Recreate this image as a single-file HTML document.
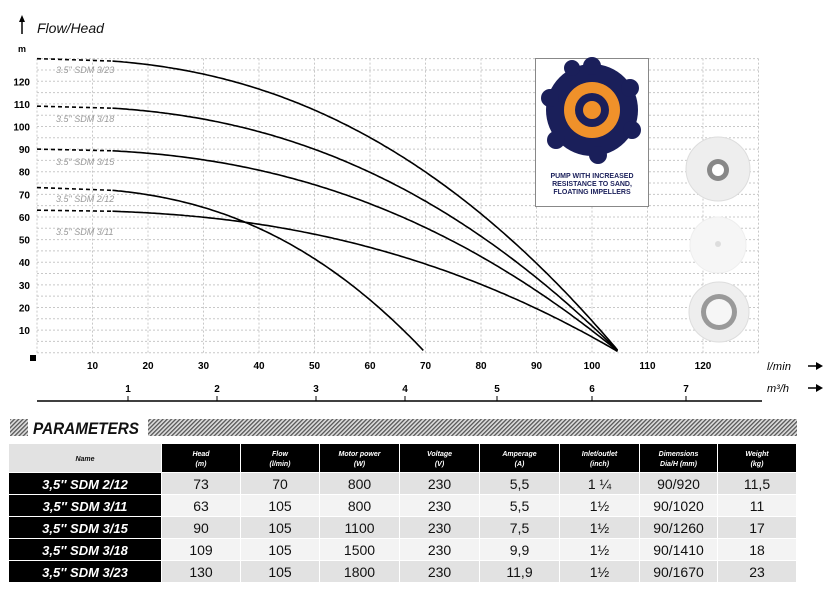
<!DOCTYPE html>
<html><head><meta charset="utf-8"><style>
body{margin:0;background:#fff;width:833px;height:599px;overflow:hidden;font-family:"Liberation Sans",sans-serif}
</style></head><body>
<svg width="833" height="599" xmlns="http://www.w3.org/2000/svg" font-family="Liberation Sans, sans-serif">
<defs>
<pattern id="h" width="3" height="3" patternUnits="userSpaceOnUse" patternTransform="rotate(45)"><rect width="3" height="3" fill="#ddd"/><rect width="1.3" height="3" fill="#555"/></pattern>
</defs>
<g id="grid" stroke="#c8c8c8" stroke-width="1" stroke-dasharray="2,2"></g>
<line x1="22" y1="34" x2="22" y2="20" stroke="#000" stroke-width="1.5"/>
<polygon points="22,15 19,22 25,22" fill="#000"/>
<text x="37" y="33" font-size="14" font-style="italic" fill="#111">Flow/Head</text>
<text x="18" y="52" font-size="9" font-weight="bold">m</text>
<g font-size="10" font-weight="bold" text-anchor="end" id="ylab"></g>
<g font-size="10" font-weight="bold" text-anchor="middle" id="xlab"></g>
<rect x="30" y="355" width="6" height="6" fill="#000"/>
<text x="767" y="370" font-size="11" font-style="italic" textLength="24">l/min</text>
<text x="767" y="392" font-size="11" font-style="italic" textLength="22">m³/h</text>
<g stroke="#000" stroke-width="1.5"><line x1="808" y1="366" x2="818" y2="366"/><line x1="808" y1="388" x2="818" y2="388"/></g>
<polygon points="823,366 816,362 816,370" fill="#000"/><polygon points="823,388 816,384 816,392" fill="#000"/>
<line x1="37" y1="401" x2="762" y2="401" stroke="#000" stroke-width="1.5"/>
<g id="m3" font-size="10" font-weight="bold" text-anchor="middle"></g>
<g id="curves" fill="none" stroke="#000" stroke-width="1.6"></g>
<g font-size="9" font-style="italic" fill="#999">
<text x="56" y="73">3.5" SDM 3/23</text>
<text x="56" y="122">3.5" SDM 3/18</text>
<text x="56" y="165">3.5" SDM 3/15</text>
<text x="56" y="202">3.5" SDM 2/12</text>
<text x="56" y="235">3.5" SDM 3/11</text>
</g>
<rect x="535.5" y="58.5" width="113" height="148" fill="#fff" stroke="#888"/>
<circle cx="592" cy="110" r="46" fill="#1a1f5a"/>
<g fill="#1a1f5a"><circle cx="592" cy="66" r="9"/><circle cx="630" cy="88" r="9"/><circle cx="632" cy="130" r="9"/><circle cx="598" cy="155" r="9"/><circle cx="556" cy="140" r="9"/><circle cx="550" cy="98" r="9"/><circle cx="572" cy="68" r="8"/></g>
<circle cx="592" cy="110" r="28" fill="#f0912a"/>
<circle cx="592" cy="110" r="17" fill="#1a1f5a"/>
<circle cx="592" cy="110" r="9" fill="#f0912a"/>
<g font-size="7" font-weight="bold" fill="#1a1f5a" text-anchor="middle"><text x="592" y="178">PUMP WITH INCREASED</text><text x="592" y="186">RESISTANCE TO SAND,</text><text x="592" y="194">FLOATING IMPELLERS</text></g>
<g><circle cx="718" cy="169" r="32" fill="#eee" stroke="#ddd"/><circle cx="718" cy="170" r="11" fill="#888"/><circle cx="718" cy="170" r="6" fill="#fff"/>
<circle cx="718" cy="245" r="28" fill="#f6f6f6" stroke="#eee"/><circle cx="718" cy="244" r="3" fill="#ddd"/>
<circle cx="719" cy="312" r="30" fill="#eee" stroke="#ddd"/><circle cx="719" cy="312" r="18" fill="#999"/><circle cx="719" cy="312" r="13" fill="#f6f6f6"/></g>
<rect x="10" y="419" width="18" height="17" fill="url(#h)"/>
<rect x="148" y="419" width="649" height="17" fill="url(#h)"/>
<text x="33" y="434" font-size="17" font-weight="bold" font-style="italic" fill="#111" textLength="106" lengthAdjust="spacingAndGlyphs">PARAMETERS</text>
<g id="tbl"></g>
</svg>
<script>
var NS="http://www.w3.org/2000/svg";
function el(p,t,a,txt){var e=document.createElementNS(NS,t);for(var k in a)e.setAttribute(k,a[k]);if(txt!=null)e.textContent=txt;document.getElementById(p).appendChild(e);return e;}
function X(q){return 37+q*5.55;}function Y(h){return 352.7-h*2.262;}
for(var q=0;q<=130;q+=10)el("grid","line",{x1:X(q),y1:Y(130),x2:X(q),y2:Y(0)});
for(var h=0;h<=130;h+=5)el("grid","line",{x1:X(0),y1:Y(h),x2:X(130),y2:Y(h)});
for(var h=10;h<=120;h+=10)el("ylab","text",{x:30,y:Y(h)+4},h);
for(var q=10;q<=120;q+=10)el("xlab","text",{x:X(q),y:369},q);
var m3x=[128,217,316,405,497,592,686];
m3x.forEach(function(x,i){el("m3","text",{x:x,y:392},i+1);el("m3","line",{x1:x,y1:396,x2:x,y2:401,stroke:"#000"});});
var cs=[[130,105],[109,105],[90,105],[73,70,2.5],[63,105,2.4]];
cs.forEach(function(c){var p=c[2]||2.35,d="";for(var q=13.6;q<=c[1];q+=0.5){d+=(d?"L":"M")+X(q).toFixed(1)+","+Y(c[0]*(1-Math.pow(q/c[1],p))).toFixed(1);}
el("curves","path",{d:d});el("curves","line",{x1:X(0),y1:Y(c[0]),x2:X(13.6),y2:Y(c[0]*(1-Math.pow(13.6/c[1],p))),"stroke-dasharray":"4,3"});});
var cols=[9,162,241,320,400,480,560,640,718,797];
var hd=[["Name"],["Head","(m)"],["Flow","(l/min)"],["Motor power","(W)"],["Voltage","(V)"],["Amperage","(A)"],["Inlet/outlet","(inch)"],["Dimensions","Dia/H (mm)"],["Weight","(kg)"]];
hd.forEach(function(h,i){var x=cols[i],w=cols[i+1]-x-1;el("tbl","rect",{x:x,y:444,width:w,height:28,fill:i?"#000":"#e2e2e2"});
var f={"font-size":7,"font-style":"italic","font-weight":"bold","text-anchor":"middle",fill:i?"#fff":"#111"};
if(h.length==1){f.x=x+w/2;f.y=461;el("tbl","text",f,h[0]);}else{f.x=x+w/2;f.y=456;el("tbl","text",f,h[0]);var g=Object.assign({},f);g.y=466;el("tbl","text",g,h[1]);}});
var rows=[["3,5\u2033 SDM 2/12","73","70","800","230","5,5","1 \u00bc","90/920","11,5"],["3,5\u2033 SDM 3/11","63","105","800","230","5,5","1\u00bd","90/1020","11"],["3,5\u2033 SDM 3/15","90","105","1100","230","7,5","1\u00bd","90/1260","17"],["3,5\u2033 SDM 3/18","109","105","1500","230","9,9","1\u00bd","90/1410","18"],["3,5\u2033 SDM 3/23","130","105","1800","230","11,9","1\u00bd","90/1670","23"]];
rows.forEach(function(r,j){var y=473+j*22;r.forEach(function(v,i){var x=cols[i],w=cols[i+1]-x-1;
el("tbl","rect",{x:x,y:y,width:w,height:21,fill:i?(j%2?"#f3f3f3":"#e2e2e2"):"#000"});
el("tbl","text",{x:x+w/2,y:y+16,"font-size":i?14:13,"font-style":i?"normal":"italic","font-weight":i?"normal":"bold","text-anchor":"middle",fill:i?"#111":"#fff"},v);});});
</script>
</body></html>
